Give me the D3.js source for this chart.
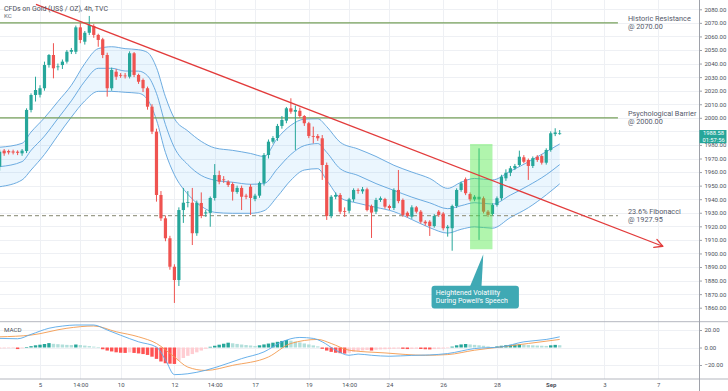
<!DOCTYPE html>
<html><head><meta charset="utf-8">
<script src="https://cdn.jsdelivr.net/npm/d3@7"></script>
<style>
body{margin:0;background:#fff}
svg{display:block;font-family:Roboto,"Liberation Sans",Arial,sans-serif}
</style>
</head><body>
<svg id="c" width="728" height="391"></svg>
<script>
// ---------- DATA ----------
const openP=[1964.0,1975.8,1975.5,1975.2,1975.0,1973.8,1975.5,2005.8,2016.8,2017.0,
2021.8,2038.9,2046.3,2037.5,2038.9,2041.4,2048.7,2048.7,2066.7,2056.1,
2062.7,2067.7,2061.1,2057.9,2046.3,2021.8,2034.0,2031.6,2031.2,2030.3,
2047.6,2031.6,2027.9,2021.8,2008.2,1989.8,1943.1,1925.9,1911.2,1890.2,
1880.4,1932.0,1937.4,1937.4,1914.9,1937.2,1929.5,1929.9,1940.9,1957.8,
1954.6,1952.9,1951.2,1945.3,1948.3,1942.6,1949.2,1940.1,1942.6,1952.0,
1972.6,1982.4,1985.1,1994.0,1997.9,2007.0,2004.5,2005.2,2001.3,1996.0,
1986.6,1986.6,1984.9,1965.2,1927.6,1941.8,1943.1,1931.3,1931.5,1939.9,
1946.8,1945.8,1947.3,1935.0,1930.8,1939.4,1940.1,1935.0,1933.5,1946.8,
1939.4,1930.0,1927.1,1934.0,1930.8,1923.4,1923.4,1920.2,1930.8,1929.4,
1918.6,1918.6,1935.0,1946.8,1954.7,1943.8,1939.9,1939.9,1940.7,1930.8,
1929.1,1935.7,1940.7,1955.4,1959.5,1962.8,1965.2,1970.9,1968.9,1964.5,
1971.3,1971.8,1966.9,1976.3,1988.0,1988.2];
const highP=[1976.5,1977.0,1976.5,1976.5,1976.0,1977.0,2007.0,2018.0,2030.3,2024.0,
2041.4,2047.0,2055.0,2040.0,2043.0,2050.0,2051.5,2068.0,2069.9,2064.0,
2075.1,2069.0,2062.0,2059.0,2048.0,2037.0,2036.0,2033.0,2033.0,2049.0,
2048.5,2032.5,2029.0,2023.0,2010.0,1992.0,1946.0,1928.0,1913.0,1892.0,
1934.0,1948.3,1946.0,1948.3,1939.0,1945.0,1932.0,1942.0,1965.9,1961.0,
1957.0,1954.0,1952.5,1950.0,1950.0,1944.0,1951.0,1944.0,1953.0,1974.0,
1984.0,1986.5,1995.5,2001.3,2008.0,2014.4,2009.0,2007.5,2002.0,1997.0,
1993.5,1988.0,1987.3,1967.0,1943.0,1945.0,1944.5,1934.0,1941.0,1948.0,
1948.0,1949.0,1948.5,1936.0,1941.0,1942.0,1941.0,1936.0,1948.0,1961.5,
1940.5,1931.0,1935.5,1935.0,1932.0,1924.5,1924.5,1929.0,1932.0,1930.5,
1921.0,1936.0,1948.0,1953.0,1956.0,1945.0,1943.0,1977.5,1942.0,1932.0,
1937.0,1942.0,1958.0,1962.0,1964.5,1966.0,1975.8,1972.5,1970.0,1971.5,
1972.5,1973.0,1977.5,1990.0,1992.3,1991.0];
const lowP=[1961.0,1972.0,1973.0,1973.0,1972.5,1972.0,1974.0,2004.0,2012.0,2015.0,
2020.0,2037.0,2029.1,2035.0,2036.0,2040.0,2047.0,2047.0,2055.0,2054.0,
2061.0,2059.0,2052.4,2044.0,2015.6,2020.0,2028.0,2029.5,2029.0,2029.0,
2030.0,2025.0,2019.0,2006.0,1988.0,1938.2,1924.0,1909.0,1888.0,1863.5,
1876.0,1922.5,1934.0,1906.2,1913.0,1926.0,1927.0,1919.7,1939.0,1951.0,
1952.0,1949.0,1939.0,1944.0,1932.0,1940.0,1928.4,1938.5,1941.0,1950.0,
1970.0,1981.0,1983.0,1992.0,1996.0,2003.0,1976.3,2000.0,1994.0,1985.0,
1981.2,1983.0,1954.2,1924.7,1926.0,1940.0,1929.0,1927.0,1929.5,1938.0,
1944.0,1944.0,1931.0,1911.4,1929.0,1938.0,1933.0,1932.0,1932.0,1937.0,
1927.0,1926.5,1925.5,1929.5,1922.0,1920.5,1912.9,1919.0,1927.0,1917.0,
1912.4,1902.0,1933.5,1945.5,1943.0,1938.5,1938.5,1910.0,1929.5,1927.0,
1928.0,1934.5,1939.0,1953.5,1957.0,1961.5,1964.0,1966.5,1954.2,1963.0,
1967.5,1965.5,1965.5,1975.0,1986.5,1987.5];
const closeP=[1975.0,1973.8,1974.5,1974.4,1974.2,1975.8,2005.8,2016.8,2020.5,2021.8,
2038.9,2046.3,2036.5,2037.9,2041.4,2048.7,2050.0,2066.7,2057.4,2062.7,
2068.4,2061.1,2057.4,2046.3,2021.8,2035.3,2030.3,2031.2,2030.6,2047.6,
2031.6,2026.6,2021.8,2008.2,1989.8,1943.1,1925.9,1911.2,1890.2,1880.4,
1932.0,1937.4,1937.8,1914.9,1937.4,1927.6,1930.3,1940.9,1957.8,1952.9,
1954.0,1950.5,1945.5,1948.3,1941.8,1941.8,1940.9,1942.6,1952.0,1972.6,
1982.4,1985.1,1994.0,1998.4,2007.0,2004.5,2005.8,2001.3,1996.0,1986.6,
1986.4,1984.9,1965.2,1927.6,1941.8,1943.1,1930.8,1930.8,1939.9,1946.8,
1946.2,1947.3,1932.0,1930.1,1939.4,1940.7,1934.5,1933.5,1946.8,1938.6,
1928.4,1927.6,1934.0,1930.8,1923.4,1922.2,1920.2,1927.6,1928.4,1918.6,
1919.7,1935.0,1946.8,1951.7,1944.4,1939.9,1941.8,1941.8,1930.8,1928.4,
1935.7,1940.7,1956.6,1959.5,1962.8,1964.5,1971.3,1967.6,1964.5,1970.2,
1968.9,1966.9,1976.3,1988.6,1989.2,1988.58];

// Keltner channel (read at sample bars)
const kcBars=[0,5,7,10,13,16,19,22,25,28,31,33,35,37,39,42,45,48,52,56,59,62,65,68,71,73,76,80,84,88,92,96,100,103,106,110,114,118,122,125];
const kcUpper=[1978.3,1981.2,1989.5,2000.0,2012.0,2024.0,2040.0,2051.0,2052.4,2051.0,2050.2,2048.2,2037.0,2015.5,1999.5,1990.3,1982.6,1977.8,1976.0,1973.7,1971.5,1985.0,1994.5,1999.0,1999.3,1993.5,1982.0,1977.0,1971.5,1965.0,1960.0,1955.3,1948.0,1952.5,1955.3,1954.2,1960.7,1967.5,1975.0,1980.7];
const kcMiddle=[1964.0,1967.7,1976.0,1986.5,1999.5,2012.5,2027.0,2036.5,2036.5,2034.5,2034.4,2031.0,2018.0,1995.0,1978.0,1965.5,1957.5,1954.0,1952.5,1951.0,1951.5,1962.5,1973.0,1979.5,1981.0,1974.5,1962.5,1957.5,1951.5,1946.5,1941.5,1937.3,1933.0,1935.2,1937.4,1936.4,1943.0,1950.0,1958.0,1965.5];
const kcLower=[1949.2,1954.2,1961.5,1973.0,1987.0,2000.5,2012.5,2019.5,2019.5,2018.8,2018.1,2013.5,1998.4,1974.4,1958.0,1943.6,1934.8,1930.3,1929.6,1929.6,1931.5,1942.0,1954.0,1961.5,1962.5,1954.0,1941.0,1937.0,1934.0,1930.8,1925.0,1919.0,1915.0,1917.8,1919.6,1918.6,1926.5,1933.7,1943.2,1951.3];

// MACD
const macdBars=[0,4,7,11,14,17,21,24,27,31,35,37,39,42,46,51,54,59,63,67,70,72,75,78,80,83,87,92,96,100,106,112,117,122,125];
const macdLine=[10.4,10.0,15.0,22.0,24.5,25.7,25.7,20.0,14.0,6.5,0.5,-14.0,-31.0,-30.0,-26.0,-18.0,-12.7,-5.0,6.5,11.5,10.4,6.5,-3.1,-8.9,-7.5,-8.9,-10.0,-9.0,-8.5,-6.9,-1.2,0.7,6.5,9.2,12.2];
const signalBars=[0,7,15,21,26,31,35,39,42,46,52,60,65,71,74,78,86,95,100,106,112,118,125];
const signalLine=[12.2,14.2,22.0,24.6,18.0,12.2,4.6,-10.8,-22.4,-26.2,-20.4,-10.8,4.6,9.2,4.6,-3.1,-6.2,-8.9,-8.1,-3.1,0.7,4.6,9.2];
const histValues=[-1.2,-1.0,-0.8,-0.6,-1.8,-0.9,0.5,
1.5,2.5,3.2,4.0,5.0,
4.2,3.8,3.4,3.0,2.8,
3.4,
2.8,2.2,1.6,1.0,0.4,
-2.0,-3.5,-4.5,-5.5,-6.0,-6.2,
-5.6,
-6.2,-6.8,-7.5,-8.5,-10.5,-13.0,-16.0,-18.0,-18.5,-18.8,
-15.0,-12.0,-9.5,-7.5,-5.5,-3.5,-1.5,
0.8,2.0,3.2,4.3,5.5,
4.8,4.1,3.4,2.8,2.3,1.8,
2.5,3.5,4.5,5.5,6.5,7.5,8.5,
7.8,6.8,5.8,4.6,3.5,2.4,1.3,
-1.5,-3.5,-5.0,-6.0,-6.5,-7.0,
-6.0,-5.0,-4.0,-3.4,-2.8,
-3.5,-2.5,
-2.2,-2.0,-1.8,-1.5,-1.2,-1.5,-1.8,-1.6,-1.4,-1.7,-2.0,-2.2,-1.8,-1.5,-1.2,-0.5,
1.0,2.5,3.5,4.0,
3.5,3.0,2.5,2.0,1.2,0.6,
1.2,2.0,2.6,3.0,3.3,3.6,
3.2,2.8,2.5,2.2,2.0,1.8,
2.5,3.0,2.6];

// Ticks and labels
const priceTicks=[1860,1870,1880,1890,1900,1910,1920,1930,1940,1950,1960,1970,1980,1990,2000,2010,2020,2030,2040,2050,2060,2070,2080];
const macdTicks=[-20,0,20];
const xTickBars=[9,18,27,39,48,57,69,78,87,99,111,123,135,147];
const xTickLabels=["5","14:00","10","12","14:00","17","19","14:00","24","26","28","Sep","3","7"];

// Levels and annotations
const levelPrices=[2070,2000];
const levelLabels=[["Historic Resistance","@ 2070.00"],["Psychological Barrier","@ 2000.00"]];
const fibPrice=1927.95;
const fibLabel=["23.6% Fibonacci","@ 1927.95"];
const levelEndBar=138;
const trendStart={bar:8.1,price:2083.6};
const trendEnd={bar:148,price:1905.3};
const highlightBars=[105.0,110.0];
const highlightPrices=[1980.7,1903.1];
const calloutBars=[96.4,115.9];
const calloutPrices=[1876.2,1859.5];
const calloutTip={bar:107.95,price:1899.4};
const calloutBase=[104.95,107.55];
const calloutLines=["Heightened Volatility","During Powell's Speech"];
const lastPrice=1988.58;
const countdown="01:57:56";

// ---------- DRAW ----------
const W=728,H=391,AX=699,MAINB=321.7,MACDB=379;
const FONT="Roboto,'Liberation Sans',Arial,sans-serif";
const svg=d3.select("#c");
svg.append("rect").attr("width",W).attr("height",H).attr("fill","#fff");

const x=d3.scaleLinear().domain([0,147]).range([-0.32,658.24]);
const y=d3.scaleLinear().domain([1860,2080]).range([307.7,9.3]);
const ym=d3.scaleLinear().domain([-20,20]).range([365,330]);

const defs=svg.append("defs");
defs.append("clipPath").attr("id","cm").append("rect").attr("x",0).attr("y",0).attr("width",AX).attr("height",MAINB);
defs.append("clipPath").attr("id","cd").append("rect").attr("x",0).attr("y",MAINB).attr("width",AX).attr("height",MACDB-MAINB);

const GRID="#eef0f4";
const grid=svg.append("g");
grid.selectAll("line.h").data(priceTicks).join("line")
  .attr("x1",0).attr("x2",AX).attr("y1",d=>Math.round(y(d))+0.5).attr("y2",d=>Math.round(y(d))+0.5)
  .attr("stroke",GRID).attr("stroke-width",1);
grid.selectAll("line.m").data(macdTicks).join("line")
  .attr("x1",0).attr("x2",AX).attr("y1",d=>Math.round(ym(d))+0.5).attr("y2",d=>Math.round(ym(d))+0.5)
  .attr("stroke",GRID).attr("stroke-width",1);
grid.selectAll("line.v").data(xTickBars).join("line")
  .attr("x1",d=>Math.round(x(d))+0.5).attr("x2",d=>Math.round(x(d))+0.5).attr("y1",0).attr("y2",MACDB)
  .attr("stroke",GRID).attr("stroke-width",1);

const main=svg.append("g").attr("clip-path","url(#cm)");

// Keltner channel
const kc=kcBars.map((b,i)=>({b,u:kcUpper[i],m:kcMiddle[i],l:kcLower[i]}));
const curve=d3.curveMonotoneX;
main.append("path").datum(kc)
  .attr("d",d3.area().x(d=>x(d.b)).y0(d=>y(d.l)).y1(d=>y(d.u)).curve(curve))
  .attr("fill","rgba(33,150,243,0.09)");
const KCC="#5ea3dd";
["u","m","l"].forEach(k=>{
  main.append("path").datum(kc)
    .attr("d",d3.line().x(d=>x(d.b)).y(d=>y(d[k])).curve(curve))
    .attr("fill","none").attr("stroke",KCC).attr("stroke-width",0.9);
});

// Horizontal levels
main.selectAll("line.lv").data(levelPrices).join("line")
  .attr("x1",0).attr("x2",x(levelEndBar)).attr("y1",d=>y(d)).attr("y2",d=>y(d))
  .attr("stroke","#76a05a").attr("stroke-width",1.2);
main.append("line").attr("x1",0).attr("x2",x(levelEndBar)).attr("y1",y(fibPrice)).attr("y2",y(fibPrice))
  .attr("stroke","#9d9e8c").attr("stroke-width",1.2).attr("stroke-dasharray","4,3");

// Candles
const UP="#26a69a",DN="#ef5350";
const idx=d3.range(openP.length);
const col=i=>closeP[i]>=openP[i]?UP:DN;
main.selectAll("line.wick").data(idx).join("line")
  .attr("x1",i=>x(i)).attr("x2",i=>x(i)).attr("y1",i=>y(highP[i])).attr("y2",i=>y(lowP[i]))
  .attr("stroke",col).attr("stroke-width",1);
main.selectAll("rect.body").data(idx).join("rect")
  .attr("x",i=>x(i)-1.6).attr("width",3.2)
  .attr("y",i=>y(Math.max(openP[i],closeP[i])))
  .attr("height",i=>Math.max(0.8,Math.abs(y(openP[i])-y(closeP[i]))))
  .attr("fill",col);

// Highlight
main.append("rect")
  .attr("x",x(highlightBars[0])).attr("width",x(highlightBars[1])-x(highlightBars[0]))
  .attr("y",y(highlightPrices[0])).attr("height",y(highlightPrices[1])-y(highlightPrices[0]))
  .attr("fill","rgb(70,230,60)").attr("opacity",0.42);

// Trend line with arrow
const tx1=x(trendStart.bar),ty1=y(trendStart.price),tx2=x(trendEnd.bar),ty2=y(trendEnd.price);
const TR="#e23b3b";
main.append("line").attr("x1",tx1).attr("y1",ty1).attr("x2",tx2).attr("y2",ty2)
  .attr("stroke",TR).attr("stroke-width",1.3);
const ang=Math.atan2(ty2-ty1,tx2-tx1);
[0.5,-0.5].forEach(a=>{
  main.append("line").attr("x1",tx2).attr("y1",ty2)
    .attr("x2",tx2-9*Math.cos(ang+a)).attr("y2",ty2-9*Math.sin(ang+a))
    .attr("stroke",TR).attr("stroke-width",1.3).attr("stroke-linecap","round");
});

// Callout
const CAL="#3fa9b4";
const cb={x0:x(calloutBars[0]),x1:x(calloutBars[1]),y0:y(calloutPrices[0]),y1:y(calloutPrices[1])};
svg.append("path")
  .attr("d",`M${x(calloutBase[0])},${cb.y0+1} L${x(calloutTip.bar)},${y(calloutTip.price)} L${x(calloutBase[1])},${cb.y0+1} Z`)
  .attr("fill",CAL);
svg.append("rect").attr("x",cb.x0).attr("y",cb.y0).attr("width",cb.x1-cb.x0).attr("height",cb.y1-cb.y0)
  .attr("rx",3).attr("fill",CAL);
svg.selectAll("text.cl").data(calloutLines).join("text")
  .attr("x",cb.x0+4.3).attr("y",(d,i)=>cb.y0+9.4+i*8.2)
  .attr("fill","#fff").attr("font-size",7).text(d=>d);

// Level labels
const TXT="#555a6b";
const lvlAll=levelPrices.map((p,i)=>({p,t:levelLabels[i]})).concat([{p:fibPrice,t:fibLabel}]);
lvlAll.forEach(o=>{
  o.t.forEach((s,j)=>{
    svg.append("text").attr("x",x(levelEndBar)+10).attr("y",y(o.p)-2+j*8.6)
      .attr("font-size",7.3).attr("fill",TXT).text(s);
  });
});

// MACD panel
const macdG=svg.append("g").attr("clip-path","url(#cd)");
const hcol=(v,i)=>{const p=i>0?histValues[i-1]:v;
  if(v>=0) return v>p?"#26a69a":"#b2dfdb"; return v<p?"#ff5252":"#ffcdd2";};
macdG.selectAll("rect.h").data(histValues).join("rect")
  .attr("x",(d,i)=>x(i)-1.7).attr("width",3.4)
  .attr("y",d=>Math.min(ym(d),ym(0))).attr("height",d=>Math.max(0.6,Math.abs(ym(d)-ym(0))))
  .attr("fill",(d,i)=>hcol(d,i));
macdG.append("path").datum(signalBars.map((b,i)=>[b,signalLine[i]]))
  .attr("d",d3.line().x(d=>x(d[0])).y(d=>ym(d[1])).curve(d3.curveMonotoneX))
  .attr("fill","none").attr("stroke","#f39a4e").attr("stroke-width",0.9);
macdG.append("path").datum(macdBars.map((b,i)=>[b,macdLine[i]]))
  .attr("d",d3.line().x(d=>x(d[0])).y(d=>ym(d[1])).curve(d3.curveMonotoneX))
  .attr("fill","none").attr("stroke","#58a8e8").attr("stroke-width",0.9);

// Separators
const SEP="#b4b7bf";
svg.append("line").attr("x1",0).attr("x2",W).attr("y1",MAINB).attr("y2",MAINB).attr("stroke",SEP).attr("stroke-width",1);
svg.append("line").attr("x1",0).attr("x2",W).attr("y1",MACDB).attr("y2",MACDB).attr("stroke",SEP).attr("stroke-width",1);
svg.append("line").attr("x1",AX+0.5).attr("x2",AX+0.5).attr("y1",0).attr("y2",H).attr("stroke","#9ea1a9").attr("stroke-width",1);

// Axes
const ly=y(lastPrice);
const styleAxis=g=>{g.select(".domain").remove();
  g.selectAll(".tick line").attr("stroke","#9ea1a9");
  g.selectAll("text").attr("fill","#4b4f5a").attr("font-size",6).attr("font-family",FONT);};
// the last-price box hides the axis label it sits on
const shownPriceTicks=priceTicks.filter(d=>Math.abs(y(d)-ly)>4);
svg.append("g").attr("transform",`translate(${AX},0)`)
  .call(d3.axisRight(y).tickValues(shownPriceTicks).tickFormat(d3.format(".2f")).tickSize(3).tickPadding(2.5))
  .call(styleAxis);
svg.append("g").attr("transform",`translate(${AX},0)`)
  .call(d3.axisRight(ym).tickValues(macdTicks).tickFormat(d3.format(".2f")).tickSize(3).tickPadding(2.5))
  .call(styleAxis);
const xa=svg.append("g").attr("transform",`translate(0,${MACDB})`)
  .call(d3.axisBottom(x).tickValues(xTickBars).tickFormat((d,i)=>xTickLabels[i]).tickSize(0).tickPadding(4))
  .call(styleAxis);
xa.selectAll("text").filter(d=>xTickLabels[xTickBars.indexOf(d)]==="Sep").attr("font-weight","bold");

// Last price label
svg.append("rect").attr("x",AX+0.5).attr("y",ly-3.3).attr("width",27).attr("height",13.2).attr("fill","#26a69a");
svg.append("text").attr("x",AX+4).attr("y",ly+2.1).attr("fill","#fff").attr("font-size",5.8).text(d3.format(".2f")(lastPrice));
svg.append("text").attr("x",AX+3.4).attr("y",ly+8.4).attr("fill","#fff").attr("font-size",5.8).text(countdown);

// Titles
svg.append("text").attr("x",4).attr("y",10.5).attr("font-size",7).attr("fill","#4b4f5a").text("CFDs on Gold (US$ / OZ), 4h, TVC");
svg.append("text").attr("x",4).attr("y",18).attr("font-size",6.2).attr("fill","#6b6f7a").text("KC");
svg.append("text").attr("x",4).attr("y",331.5).attr("font-size",6.2).attr("fill","#4b4f5a").text("MACD");
</script>
</body></html>
